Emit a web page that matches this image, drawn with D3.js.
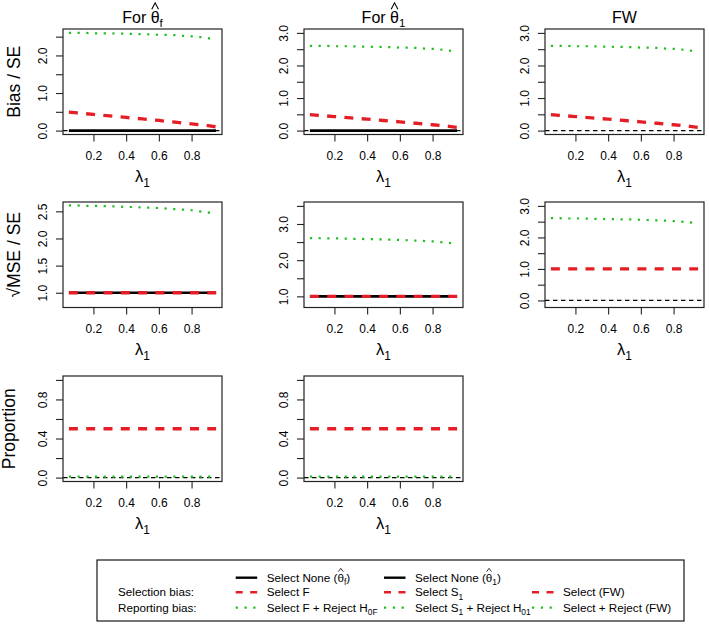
<!DOCTYPE html>
<html>
<head>
<meta charset="utf-8">
<script src="https://cdn.jsdelivr.net/npm/d3@7"></script>
<style>
    body { margin: 0; background: #fff; }
    svg text { font-family: "Liberation Sans", Arial, sans-serif; fill: #000; }
</style>
</head>
<body>
<div id="chart"></div>
<script>
// ---------------------------------------------------------------------------- //
//                                     Data                                     //
// ---------------------------------------------------------------------------- //
var LAMBDA_1 = [0.05, 0.10, 0.15, 0.20, 0.25, 0.30, 0.35, 0.40, 0.45, 0.50,
                0.55, 0.60, 0.65, 0.70, 0.75, 0.80, 0.85, 0.90, 0.95];

// Bias / SE
var biasNone   = [0, 0, 0, 0, 0, 0, 0, 0, 0, 0, 0, 0, 0, 0, 0, 0, 0, 0, 0];
var biasSelect = [0.49, 0.47, 0.45, 0.43, 0.41, 0.39, 0.37, 0.35, 0.33, 0.31,
                  0.29, 0.27, 0.245, 0.225, 0.20, 0.18, 0.155, 0.13, 0.10];
var biasReport = [2.60, 2.60, 2.60, 2.59, 2.59, 2.59, 2.58, 2.58, 2.57, 2.57,
                  2.56, 2.55, 2.55, 2.54, 2.52, 2.51, 2.49, 2.46, 2.42];

// sqrt(MSE) / SE
var rmseNone   = [1, 1, 1, 1, 1, 1, 1, 1, 1, 1, 1, 1, 1, 1, 1, 1, 1, 1, 1];
var rmseSelect = [1, 1, 1, 1, 1, 1, 1, 1, 1, 1, 1, 1, 1, 1, 1, 1, 1, 1, 1];
var rmseReport = [2.61, 2.61, 2.60, 2.60, 2.60, 2.59, 2.59, 2.58, 2.58, 2.57,
                  2.57, 2.56, 2.55, 2.54, 2.53, 2.52, 2.50, 2.48, 2.45];

// Proportion
var propSelect = [0.5, 0.5, 0.5, 0.5, 0.5, 0.5, 0.5, 0.5, 0.5, 0.5,
                  0.5, 0.5, 0.5, 0.5, 0.5, 0.5, 0.5, 0.5, 0.5];
var propReport = [0.01, 0.01, 0.01, 0.01, 0.01, 0.01, 0.01, 0.01, 0.01, 0.01,
                  0.01, 0.01, 0.01, 0.01, 0.01, 0.01, 0.01, 0.01, 0.01];

// axis ticks
var X_TICKS = [0.2, 0.4, 0.6, 0.8];
var Y_TICKS_BIAS1 = [0, 0.5, 1, 1.5, 2, 2.5];
var Y_TICKS_BIAS  = [0, 0.5, 1, 1.5, 2, 2.5, 3];
var Y_TICKS_RMSE1 = [1, 1.5, 2, 2.5];
var Y_TICKS_RMSE2 = [1, 1.5, 2, 2.5, 3, 3.5];
var Y_TICKS_PROP  = [0, 0.2, 0.4, 0.6, 0.8, 1];

// ---------------------------------------------------------------------------- //
//                             Constants & Variables                            //
// ---------------------------------------------------------------------------- //
var WIDTH = 709, HEIGHT = 625;
var COL_LEFT = [63, 304, 545];
var ROW_TOP = [29, 202, 376];
var PANEL_W = 159, PANEL_H = 105.5;
var X_DOMAIN = [0.014, 0.986];
var TICK_FS = 12;

var RED = "#e41e26", GREEN = "#1fbf1f";

var STYLES = {
    none:   {stroke: "#000", width: 2.6, dash: null},
    select: {stroke: RED,    width: 3.3, dash: "9,8.3"},
    report: {stroke: GREEN,  width: 2.2, dash: "2.2,6.5"}
};

var THETA_F = [{t: "For "}, {t: "θ", hat: true}, {t: "f", sub: true}];
var THETA_1 = [{t: "For "}, {t: "θ", hat: true}, {t: "1", sub: true}];

var panels = [
    {r: 0, c: 0, title: THETA_F, ylab: "Bias / SE", yDomain: [-0.104, 2.704], yTicks: Y_TICKS_BIAS1, yLabels: [0, 1, 2],
     lines: [["none", biasNone], ["select", biasSelect], ["report", biasReport]]},
    {r: 0, c: 1, title: THETA_1, yDomain: [-0.12, 3.12], yTicks: Y_TICKS_BIAS, yLabels: [0, 1, 2, 3],
     lines: [["none", biasNone], ["select", biasSelect], ["report", biasReport]]},
    {r: 0, c: 2, title: [{t: "FW"}], yDomain: [-0.12, 3.12], yTicks: Y_TICKS_BIAS, yLabels: [0, 1, 2, 3],
     lines: [["select", biasSelect], ["report", biasReport]]},
    {r: 1, c: 0, ylab: "√MSE / SE", yDomain: [0.728, 2.672], yTicks: Y_TICKS_RMSE1, yLabels: [1, 1.5, 2, 2.5],
     lines: [["none", rmseNone], ["select", rmseSelect], ["report", rmseReport]]},
    {r: 1, c: 1, yDomain: [0.692, 3.608], yTicks: Y_TICKS_RMSE2, yLabels: [1, 2, 3],
     lines: [["none", rmseNone], ["select", rmseSelect], ["report", rmseReport]]},
    {r: 1, c: 2, yDomain: [-0.224, 3.124], yTicks: Y_TICKS_BIAS, yLabels: [0, 1, 2, 3],
     lines: [["select", rmseSelect], ["report", rmseReport]]},
    {r: 2, c: 0, ylab: "Proportion", ylabX: 15, yDomain: [-0.04, 1.04], yTicks: Y_TICKS_PROP, yLabels: [0, 0.4, 0.8],
     lines: [["select", propSelect], ["report", propReport]]},
    {r: 2, c: 1, yDomain: [-0.04, 1.04], yTicks: Y_TICKS_PROP, yLabels: [0, 0.4, 0.8],
     lines: [["select", propSelect], ["report", propReport]]}
];

var legendRows = ["", "Selection bias:", "Reporting bias:"];
var legendCols = [
    [["none",   [{t: "Select None ("}, {t: "θ", hat: true}, {t: "f", sub: true}, {t: ")"}]],
     ["select", [{t: "Select F"}]],
     ["report", [{t: "Select F + Reject H"}, {t: "0F", sub: true}]]],
    [["none",   [{t: "Select None ("}, {t: "θ", hat: true}, {t: "1", sub: true}, {t: ")"}]],
     ["select", [{t: "Select S"}, {t: "1", sub: true}]],
     ["report", [{t: "Select S"}, {t: "1", sub: true}, {t: " + Reject H"}, {t: "01", sub: true}]]],
    [null,
     ["select", [{t: "Select (FW)"}]],
     ["report", [{t: "Select + Reject (FW)"}]]]
];

// ---------------------------------------------------------------------------- //
//                                   Functions                                  //
// ---------------------------------------------------------------------------- //

// text with subscripts
//________________________________________________________________________________
function mathText(g, parts, fs){
    var text = g.append("text").attr("font-size", fs);
    var inSub = false;
    parts.forEach(function(p){
        var ts = text.append("tspan").text(p.t);
        if (p.sub) {
            ts.attr("font-size", fs * 0.72);
            if (!inSub) { ts.attr("dy", fs * 0.28); inSub = true; }
        } else if (inSub) {
            ts.attr("dy", -fs * 0.28); inSub = false;
        }
    });
    return text;
}

// hat accents over characters (after the text is placed)
//________________________________________________________________________________
function addHats(g, text, parts, fs, hatH){
    var node = text.node(), idx = 0;
    var base = +text.attr("y");
    parts.forEach(function(p){
        if (p.hat) {
            var e = node.getExtentOfChar(idx);
            var cx = e.x + e.width / 2;
            var bottom = base - fs * 0.86;
            var hw = fs * 0.21;
            g.append("path")
                .attr("d", "M" + (cx - hw) + "," + bottom + "L" + cx + "," + (bottom - fs * hatH) + "L" + (cx + hw) + "," + bottom)
                .attr("fill", "none")
                .attr("stroke", "#000")
                .attr("stroke-width", fs * 0.07);
        }
        idx += p.t.length;
    });
}

var svg = d3.select("#chart")
    .append("svg")
    .attr("width", WIDTH)
    .attr("height", HEIGHT);

var fmt = d3.format(".1f");

// Draw panels
//________________________________________________________________________________
panels.forEach(function(p){
    var left = COL_LEFT[p.c], top = ROW_TOP[p.r];
    var g = svg.append("g").attr("transform", "translate(" + left + "," + top + ")");

    var x = d3.scaleLinear().domain(X_DOMAIN).range([0, PANEL_W]);
    var y = d3.scaleLinear().domain(p.yDomain).range([PANEL_H, 0]);

    // reference line at 0
    if (p.yDomain[0] < 0) {
        g.append("line")
            .attr("x1", 0).attr("x2", PANEL_W)
            .attr("y1", y(0)).attr("y2", y(0))
            .attr("stroke", "#000")
            .attr("stroke-width", 1.2)
            .attr("stroke-dasharray", "4.5,3.5");
    }

    // series
    p.lines.forEach(function(s){
        var st = STYLES[s[0]];
        var vals = s[1];
        g.append("path")
            .datum(LAMBDA_1)
            .attr("fill", "none")
            .attr("stroke", st.stroke)
            .attr("stroke-width", st.width)
            .attr("stroke-dasharray", st.dash)
            .attr("d", d3.line()
                .x(function(d) { return x(d); })
                .y(function(d, i) { return y(vals[i]); }));
    });

    // frame
    g.append("rect")
        .attr("width", PANEL_W).attr("height", PANEL_H)
        .attr("fill", "none")
        .attr("stroke", "#222")
        .attr("stroke-width", 1.2);

    // X axis
    g.append("g")
        .attr("transform", "translate(0," + PANEL_H + ")")
        .call(d3.axisBottom(x).tickValues(X_TICKS).tickSize(7).tickFormat(fmt))
        .call(function(a){
            a.select(".domain").remove();
            a.selectAll(".tick line").attr("stroke", "#222").attr("stroke-width", 1.1);
            a.selectAll(".tick text")
                .attr("y", 25).attr("dy", null)
                .attr("font-size", TICK_FS)
                .attr("font-family", "Liberation Sans, Arial, sans-serif")
                .attr("fill", "#000");
        });

    // Y axis
    g.append("g")
        .call(d3.axisLeft(y).tickValues(p.yTicks).tickSize(7)
            .tickFormat(function(d){ return p.yLabels.indexOf(d) >= 0 ? fmt(d) : ""; }))
        .call(function(a){
            a.select(".domain").remove();
            a.selectAll(".tick line").attr("stroke", "#222").attr("stroke-width", 1.1);
            a.selectAll(".tick text")
                .attr("x", 0).attr("dy", null)
                .attr("transform", "translate(-16,0) rotate(-90)")
                .attr("text-anchor", "middle")
                .attr("font-size", TICK_FS)
                .attr("font-family", "Liberation Sans, Arial, sans-serif")
                .attr("fill", "#000");
        });

    // X axis label
    mathText(g, [{t: "λ"}, {t: "1", sub: true}], 16.5)
        .attr("x", PANEL_W / 2)
        .attr("y", PANEL_H + 47.5)
        .attr("text-anchor", "middle");

    // Title
    if (p.title) {
        var tt = mathText(g, p.title, 16)
            .attr("x", PANEL_W / 2)
            .attr("y", -6)
            .attr("text-anchor", "middle");
        addHats(g, tt, p.title, 16, 0.4);
    }

    // Y axis label
    if (p.ylab) {
        svg.append("text")
            .attr("transform", "translate(" + (p.ylabX || 20) + "," + (top + PANEL_H / 2) + ") rotate(-90)")
            .attr("text-anchor", "middle")
            .attr("font-size", 17.5)
            .text(p.ylab);
    }
});

// Legend
//________________________________________________________________________________
var LEG = {x: 97, y: 560, w: 587, h: 61};
var legRowY = [577.7, 592.3, 607.7];
var legColX = [235.7, 384, 532];
var legFs = 11.7;

var leg = svg.append("g");
leg.append("rect")
    .attr("x", LEG.x).attr("y", LEG.y)
    .attr("width", LEG.w).attr("height", LEG.h)
    .attr("fill", "none")
    .attr("stroke", "#000")
    .attr("stroke-width", 1.1);

legendRows.forEach(function(lbl, i){
    if (!lbl) return;
    leg.append("text")
        .attr("x", 118).attr("y", legRowY[i] + 4)
        .attr("font-size", legFs)
        .text(lbl);
});

legendCols.forEach(function(col, ci){
    col.forEach(function(entry, ri){
        if (!entry) return;
        var st = STYLES[entry[0]];
        var cy = legRowY[ri];
        leg.append("line")
            .attr("x1", legColX[ci]).attr("x2", legColX[ci] + 21.5)
            .attr("y1", cy).attr("y2", cy)
            .attr("stroke", st.stroke)
            .attr("stroke-width", entry[0] == "none" ? 2.4 : (entry[0] == "select" ? 2.6 : 2.2))
            .attr("stroke-dasharray", entry[0] == "select" ? "7,7.5" : (entry[0] == "report" ? "2.2,6.6" : null));
        var t = mathText(leg, entry[1], legFs)
            .attr("x", legColX[ci] + 31)
            .attr("y", cy + 4);
        addHats(leg, t, entry[1], legFs, 0.28);
    });
});
</script>
</body>
</html>
